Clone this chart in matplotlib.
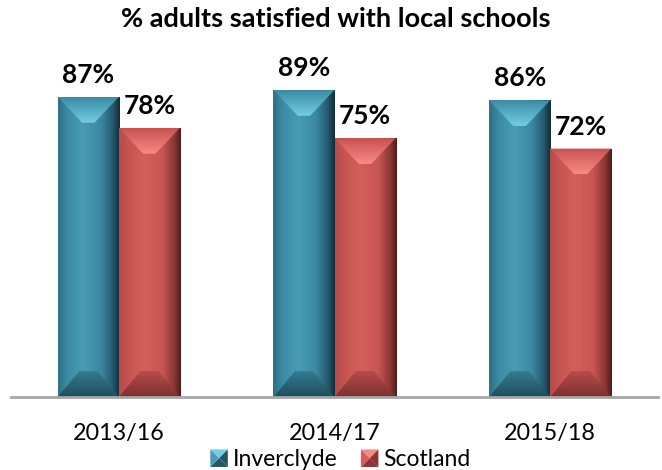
import numpy as np
import matplotlib.pyplot as plt
from matplotlib.colors import to_rgb
from matplotlib.patches import Polygon, Rectangle
from matplotlib.legend_handler import HandlerBase

plt.rcParams['font.family'] = ['Lato', 'DejaVu Sans']

# Survey results
periods = ["2013/16", "2014/17", "2015/18"]
inverclyde = [87, 89, 86]
scotland = [78, 75, 72]
series_names = ["Inverclyde", "Scotland"]

# Bevel shading: horizontal body stops, top face, bottom face
teal = {
    "body": [(0.0, "#2F7186"), (0.15, "#3A8AA3"), (0.4, "#4A9CB5"),
             (0.7, "#3A88A0"), (0.9, "#24566A"), (1.0, "#122E38")],
    "top": ("#3A8CA4", "#72CDE4"),
    "bottom": ("#1F4E5E", "#347B91"),
}
red = {
    "body": [(0.0, "#B44C4A"), (0.15, "#C65552"), (0.4, "#D55F5C"),
             (0.7, "#C85653"), (0.9, "#8A3634"), (1.0, "#4E1E1D")],
    "top": ("#C9524F", "#F88A86"),
    "bottom": ("#7E302E", "#B64D4A"),
}


def body_image(stops, n=64):
    t = np.linspace(0, 1, n)
    pos = [s[0] for s in stops]
    cols = np.array([to_rgb(s[1]) for s in stops])
    img = np.stack([np.interp(t, pos, cols[:, k]) for k in range(3)], axis=-1)
    return img[np.newaxis, :, :]


def vertical_image(c_top, c_bot, n=32):
    t = np.linspace(0, 1, n)[:, None]
    a, b = np.array(to_rgb(c_top)), np.array(to_rgb(c_bot))
    img = a * (1 - t) + b * t
    return img[:, np.newaxis, :]


def fill_gradient(ax, img, patch, extent):
    ax.add_patch(patch)
    im = ax.imshow(img, extent=extent, aspect='auto', zorder=3,
                   interpolation='bilinear')
    im.set_clip_path(patch)


def bevel_bar(ax, bar, style, depth):
    x0, w, h = bar.get_x(), bar.get_width(), bar.get_height()
    x1, cx = x0 + w, x0 + w / 2
    bar.set_visible(False)
    body = Rectangle((x0, 0), w, h, facecolor='none', edgecolor='none')
    fill_gradient(ax, body_image(style["body"]), body, (x0, x1, 0, h))
    # top face
    top = Polygon([(x0, h), (x1, h), (cx + w * 0.1, h - depth),
                   (cx - w * 0.1, h - depth)], closed=True,
                  facecolor='none', edgecolor='none')
    fill_gradient(ax, vertical_image(*style["top"]), top,
                  (x0, x1, h - depth, h))
    # bottom face
    bot = Polygon([(x0, 0), (x1, 0), (cx + w * 0.15, depth),
                   (cx - w * 0.15, depth)], closed=True,
                  facecolor='none', edgecolor='none')
    fill_gradient(ax, vertical_image(style["bottom"][1], style["bottom"][0]),
                  bot, (x0, x1, 0, depth))


class BevelHandler(HandlerBase):
    def __init__(self, style):
        super().__init__()
        self.style = style

    def create_artists(self, legend, orig_handle, xdescent, ydescent,
                       width, height, fontsize, trans):
        s = min(width, height)
        x0 = xdescent + (width - s) / 2
        y0 = -ydescent + (height - s) / 2
        cx, cy = x0 + s / 2, y0 + s / 2
        light = self.style["top"][1]
        mid = self.style["body"][2][1]
        dark = self.style["body"][4][1]
        arts = [
            Polygon([(x0, y0), (x0 + s, y0), (cx, cy)], closed=True, fc=dark),
            Polygon([(x0, y0 + s), (x0 + s, y0 + s), (cx, cy)], closed=True, fc=light),
            Polygon([(x0, y0), (x0, y0 + s), (cx, cy)], closed=True, fc=mid),
            Polygon([(x0 + s, y0), (x0 + s, y0 + s), (cx, cy)], closed=True, fc=dark),
        ]
        for a in arts:
            a.set_transform(trans)
            a.set_edgecolor('none')
        return arts


fig = plt.figure(figsize=(6.62, 4.70), dpi=100)
ax = fig.add_axes([11 / 662, 73 / 470, 647 / 662, 345 / 470])

x = np.arange(len(periods))
width = 0.283
bars_a = ax.bar(x - width / 2, inverclyde, width)
bars_b = ax.bar(x + width / 2, scotland, width)

ax.set_xlim(-0.5, len(periods) - 0.5)
ax.set_ylim(0, 100)
depth = 7.5
for b in bars_a:
    bevel_bar(ax, b, teal, depth)
for b in bars_b:
    bevel_bar(ax, b, red, depth)

for bars, vals in ((bars_a, inverclyde), (bars_b, scotland)):
    for b, v in zip(bars, vals):
        ax.annotate(f"{v}%", (b.get_x() + b.get_width() / 2, v),
                    xytext=(0, 10), textcoords='offset points',
                    ha='center', va='baseline', fontsize=19, fontweight='bold')

ax.set_xticks(x)
ax.set_xticklabels(periods, fontsize=16.8)
ax.tick_params(axis='x', length=0, pad=19)
ax.set_yticks([])
for side in ("left", "right", "top"):
    ax.spines[side].set_visible(False)
ax.spines["bottom"].set_color("#A6A6A6")
ax.spines["bottom"].set_linewidth(2)
ax.spines["bottom"].set_zorder(5)

fig.suptitle("% adults satisfied with local schools", x=0.507, y=0.985,
             fontsize=19.5, fontweight='bold', va='top')

h1 = Rectangle((0, 0), 1, 1)
h2 = Rectangle((0, 0), 1, 1)
fig.legend([h1, h2], series_names, loc='center', ncol=2, frameon=False,
           bbox_to_anchor=(0.514, 0.022), fontsize=16.5,
           handlelength=0.8, handleheight=0.8, handletextpad=0.2,
           columnspacing=1.0, borderpad=0.1,
           handler_map={h1: BevelHandler(teal), h2: BevelHandler(red)})

fig.savefig("out.png", dpi=100)
